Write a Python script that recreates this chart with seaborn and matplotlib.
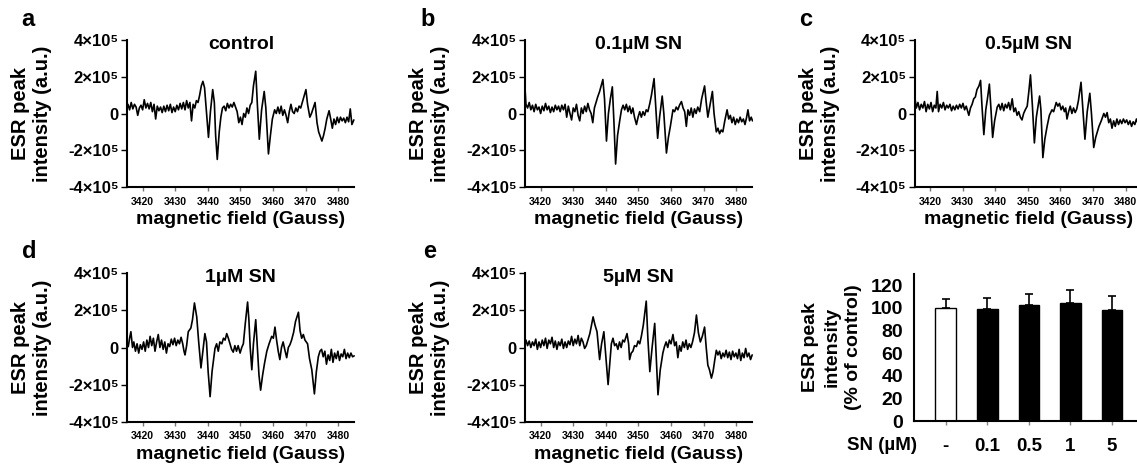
import numpy as np
import pandas as pd
import matplotlib
matplotlib.use("Agg")
import matplotlib.pyplot as plt
import seaborn as sns

# ESR traces, (magnetic field in Gauss, intensity in 1e5 a.u.)
trace_control = [
    (3415.5, 0.5), (3416.0, 0.2), (3416.5, 0.6), (3417.0, 0.25), (3417.5, 0.5),
    (3418.0, 0.35), (3418.5, -0.1), (3419.0, 0.3), (3419.5, 0.45), (3420.0, 0.2),
    (3420.5, 0.75), (3421.0, 0.3), (3421.5, 0.55), (3422.0, 0.25), (3422.5, 0.6),
    (3423.0, 0.1), (3423.5, 0.5), (3424.0, -0.3), (3424.5, 0.4), (3425.0, 0.15),
    (3425.5, 0.35), (3426.0, 0.05), (3426.5, 0.4), (3427.0, 0.1), (3427.5, 0.45),
    (3428.0, 0.15), (3428.5, 0.5), (3429.0, 0.05), (3429.5, 0.35), (3430.0, 0.1),
    (3430.5, 0.45), (3431.0, 0.2), (3431.5, 0.55), (3432.0, 0.25), (3432.5, 0.6),
    (3433.0, 0.2), (3433.5, 0.7), (3434.0, 0.3), (3434.5, 0.6), (3435.0, -0.4),
    (3435.5, 0.5), (3436.0, 0.3), (3436.5, 0.7), (3437.0, 0.6), (3437.5, 1.0),
    (3438.0, 1.5), (3438.5, 1.75), (3439.0, 1.4), (3439.5, 0.3), (3440.2, -1.3),
    (3440.8, 0.1), (3441.5, 1.3), (3442.0, 0.6), (3442.4, -1.2), (3442.9, -2.5),
    (3443.5, -1.0), (3444.0, -0.2), (3444.5, 0.3), (3445.0, 0.4), (3445.5, 0.15),
    (3446.0, 0.55), (3446.5, 0.3), (3447.0, 0.5), (3447.5, 0.35), (3448.0, 0.6),
    (3448.5, 0.35), (3449.0, 0.1), (3449.5, -0.5), (3450.0, -0.2), (3450.5, -0.6),
    (3451.0, 0.0), (3451.5, -0.2), (3452.0, 0.3), (3452.5, 0.0), (3453.0, 0.45),
    (3453.5, 0.6), (3454.0, 1.5), (3454.7, 2.3), (3455.2, 0.5), (3455.8, -1.4),
    (3456.5, 0.2), (3457.3, 1.2), (3457.8, 0.3), (3458.6, -2.2), (3459.2, -1.2),
    (3459.8, -0.3), (3460.5, 0.2), (3461.0, 0.0), (3461.5, 0.35), (3462.0, 0.0),
    (3462.5, 0.4), (3463.0, -0.1), (3463.5, 0.2), (3464.0, -0.1), (3464.5, -0.5),
    (3465.0, 0.1), (3465.5, 0.5), (3466.0, 0.1), (3466.5, 0.0), (3467.0, 0.3),
    (3467.5, 0.1), (3468.0, 0.4), (3468.5, 0.3), (3469.3, 0.8), (3470.1, 1.3),
    (3470.6, 0.5), (3471.3, -0.2), (3471.8, 0.0), (3472.9, 0.6), (3473.5, -0.5),
    (3474.0, -1.0), (3475.0, -1.5), (3475.5, -1.2), (3476.0, -0.8), (3476.5, -0.3),
    (3477.2, 0.15), (3477.7, -0.3), (3478.2, -0.8), (3478.7, -0.3), (3479.2, -0.6),
    (3479.7, -0.2), (3480.2, -0.5), (3480.7, -0.2), (3481.2, -0.4), (3481.7, -0.25),
    (3482.2, -0.5), (3482.7, -0.2), (3483.2, -0.45), (3483.7, 0.25), (3484.2, -0.6),
    (3484.8, -0.35),
]

trace_sn01 = [
    (3415.2, 1.4), (3415.5, 0.5), (3416.0, 0.3), (3416.5, 0.6), (3417.0, 0.2),
    (3417.5, 0.45), (3418.0, 0.1), (3418.5, 0.5), (3419.0, 0.2), (3419.5, 0.35),
    (3420.0, 0.0), (3420.5, 0.4), (3421.0, 0.15), (3421.5, 0.55), (3422.0, 0.2),
    (3422.5, 0.4), (3423.0, 0.05), (3423.5, 0.35), (3424.0, 0.1), (3424.5, 0.45),
    (3425.0, 0.2), (3425.5, 0.4), (3426.0, 0.1), (3426.5, 0.45), (3427.0, 0.2),
    (3427.5, 0.5), (3428.0, -0.2), (3428.5, 0.4), (3429.0, 0.0), (3429.5, -0.35),
    (3430.0, 0.3), (3430.5, 0.1), (3431.0, 0.5), (3431.5, -0.1), (3432.0, -0.4),
    (3432.5, 0.3), (3433.0, 0.0), (3433.5, 0.4), (3434.0, 0.1), (3434.5, 0.55),
    (3435.0, 0.2), (3435.5, 0.0), (3436.0, -0.5), (3436.5, 0.3), (3437.0, 0.6),
    (3437.5, 0.9), (3438.1, 1.2), (3439.1, 1.85), (3439.6, 0.8), (3440.2, -1.5),
    (3440.8, 0.0), (3441.4, 0.8), (3442.0, 1.45), (3442.5, -0.5), (3443.0, -2.75),
    (3443.6, -1.2), (3444.3, -0.35), (3444.8, 0.2), (3445.3, 0.45), (3445.8, 0.2),
    (3446.3, 0.5), (3446.8, 0.1), (3447.3, 0.4), (3447.8, 0.0), (3448.3, 0.3),
    (3448.8, -0.2), (3449.4, -0.6), (3449.9, -0.2), (3450.4, 0.1), (3450.9, -0.2),
    (3451.4, 0.1), (3451.9, -0.1), (3452.4, 0.2), (3452.9, 0.1), (3453.5, 0.55),
    (3454.0, 1.0), (3454.8, 1.9), (3455.3, 0.4), (3455.9, -1.35), (3456.5, -0.2),
    (3457.3, 0.95), (3457.8, 0.0), (3458.6, -2.15), (3459.2, -1.3), (3459.8, -0.7),
    (3460.6, 0.2), (3461.1, 0.1), (3461.6, 0.35), (3462.1, 0.2), (3462.6, 0.45),
    (3463.2, 0.65), (3463.7, 0.3), (3464.2, 0.1), (3464.7, -0.7), (3465.2, 0.2),
    (3465.7, -0.1), (3466.2, 0.3), (3466.7, -0.2), (3467.2, 0.25), (3467.7, 0.0),
    (3468.2, 0.35), (3468.8, 0.1), (3469.4, 0.8), (3470.3, 1.5), (3470.8, 0.6),
    (3471.3, -0.2), (3471.9, 0.4), (3472.7, 1.2), (3473.2, 0.0), (3473.9, -1.0),
    (3474.4, -0.8), (3474.9, -1.1), (3475.4, -0.9), (3475.9, -1.0), (3476.5, -0.4),
    (3477.2, 0.2), (3477.7, -0.3), (3478.2, -0.1), (3478.7, -0.5), (3479.2, -0.2),
    (3479.7, -0.6), (3480.2, -0.3), (3480.7, -0.5), (3481.2, -0.2), (3481.7, -0.45),
    (3482.2, -0.3), (3482.7, -0.6), (3483.2, -0.2), (3483.6, 0.2), (3484.1, -0.4),
    (3484.6, -0.2), (3485.0, -0.4),
]

trace_sn05 = [
    (3415.4, 0.8), (3415.8, 0.3), (3416.3, 0.6), (3416.8, 0.2), (3417.3, 0.5),
    (3417.8, 0.3), (3418.3, 0.65), (3418.8, 0.1), (3419.3, 0.5), (3419.8, 0.25),
    (3420.3, 0.6), (3420.8, 0.1), (3421.3, 0.45), (3421.8, 0.3), (3422.2, 1.2),
    (3422.6, 0.1), (3423.1, 0.5), (3423.6, 0.3), (3424.1, 0.6), (3424.6, 0.2),
    (3425.1, 0.45), (3425.6, 0.3), (3426.1, 0.5), (3426.6, 0.15), (3427.1, 0.4),
    (3427.6, 0.2), (3428.1, 0.45), (3428.6, 0.25), (3429.1, 0.5), (3429.6, 0.3),
    (3430.1, 0.55), (3430.6, 0.2), (3431.1, 0.4), (3431.9, -0.1), (3432.4, 0.3),
    (3432.9, 0.5), (3433.4, 0.8), (3433.9, 0.9), (3434.4, 1.3), (3435.0, 1.5),
    (3435.5, 1.8), (3435.9, 0.5), (3436.5, -1.15), (3437.1, 0.2), (3437.6, 0.8),
    (3438.2, 1.6), (3438.7, 0.2), (3439.2, -1.3), (3439.8, -0.4), (3440.6, 0.35),
    (3441.1, 0.5), (3441.6, 0.2), (3442.1, 0.55), (3442.6, 0.15), (3443.1, 0.5),
    (3443.6, 0.3), (3444.1, 0.6), (3444.6, 0.2), (3445.2, 0.8), (3445.7, 0.1),
    (3446.2, 0.3), (3446.7, -0.1), (3447.2, 0.1), (3447.7, -0.2), (3448.2, -0.35),
    (3448.7, 0.0), (3449.2, 0.2), (3449.8, 0.4), (3450.3, 1.2), (3450.8, 2.1),
    (3451.4, 0.4), (3452.0, -1.6), (3452.6, -0.2), (3453.6, 0.95), (3454.0, 0.2),
    (3454.6, -2.4), (3455.2, -1.4), (3455.9, -0.7), (3456.6, -0.1), (3457.4, 0.2),
    (3457.9, 0.1), (3458.7, 0.6), (3459.2, 0.4), (3459.7, 0.55), (3460.2, 0.2),
    (3460.7, 0.4), (3461.2, 0.1), (3461.6, 0.3), (3462.0, -0.3), (3462.5, 0.1),
    (3463.0, 0.4), (3463.5, 0.0), (3464.0, 0.3), (3464.5, 0.05), (3465.0, 0.25),
    (3465.5, 0.7), (3466.3, 1.7), (3466.8, 0.4), (3467.5, -1.4), (3468.2, 0.1),
    (3469.0, 1.1), (3469.5, 0.0), (3470.2, -1.85), (3470.8, -1.3), (3471.8, -0.7),
    (3472.5, -0.4), (3473.3, 0.0), (3473.8, -0.2), (3474.3, 0.05), (3474.8, -0.5),
    (3475.3, -0.3), (3475.8, -0.8), (3476.3, -0.4), (3476.8, -0.7), (3477.3, -0.3),
    (3477.8, -0.6), (3478.3, -0.35), (3478.8, -0.55), (3479.3, -0.3), (3479.8, -0.5),
    (3480.3, -0.35), (3480.8, -0.6), (3481.3, -0.4), (3481.8, -0.7), (3482.3, -0.45),
    (3482.8, -0.6), (3483.3, -0.3), (3483.8, -0.55), (3484.3, -0.4),
]

trace_sn1 = [
    (3415.6, 0.05), (3416.0, 0.5), (3416.4, 0.85), (3416.9, 0.0), (3417.3, 0.3),
    (3417.8, -0.2), (3418.3, 0.2), (3418.8, -0.3), (3419.3, 0.15), (3419.8, -0.1),
    (3420.3, 0.3), (3420.8, -0.2), (3421.3, 0.4), (3421.8, 0.0), (3422.3, 0.6),
    (3422.8, 0.1), (3423.3, 0.5), (3423.8, -0.2), (3424.3, 0.3), (3424.8, 0.7),
    (3425.3, 0.0), (3425.8, 0.4), (3426.3, -0.1), (3426.8, 0.3), (3427.3, -0.3),
    (3427.8, 0.2), (3428.3, 0.05), (3428.8, 0.45), (3429.3, 0.15), (3429.8, 0.5),
    (3430.3, 0.1), (3430.8, 0.4), (3431.3, 0.2), (3431.8, 0.55), (3432.3, 0.2),
    (3432.7, -0.2), (3433.0, -0.4), (3433.5, 0.1), (3434.0, 0.85), (3434.8, 1.05),
    (3435.3, 1.5), (3435.9, 2.4), (3436.6, 1.65), (3437.2, 0.3), (3437.9, -1.1),
    (3438.5, -0.2), (3439.1, 0.75), (3439.6, 0.3), (3440.1, -1.3), (3440.7, -2.65),
    (3441.3, -1.3), (3442.2, -0.05), (3442.7, 0.2), (3443.2, -0.2), (3443.7, 0.3),
    (3444.3, 0.2), (3444.8, 0.5), (3445.3, 0.4), (3445.8, 0.75), (3446.3, 0.5),
    (3446.8, 0.2), (3447.3, -0.1), (3447.8, -0.25), (3448.3, 0.1), (3448.8, -0.2),
    (3449.3, 0.1), (3449.9, -0.3), (3450.4, 0.0), (3450.9, 0.2), (3451.5, 1.3),
    (3452.2, 2.45), (3452.6, 1.5), (3453.0, 0.0), (3453.5, -1.2), (3454.0, 0.2),
    (3454.7, 1.5), (3455.2, 0.0), (3455.7, -1.5), (3456.2, -2.3), (3456.8, -1.5),
    (3457.4, -0.85), (3458.1, -0.2), (3458.8, 0.2), (3459.6, 0.6), (3460.1, 0.5),
    (3460.6, 1.1), (3461.1, 0.4), (3461.6, -0.2), (3462.1, -0.65), (3462.6, 0.0),
    (3463.1, 0.3), (3463.6, -0.1), (3464.2, -0.55), (3464.7, 0.0), (3465.2, 0.15),
    (3465.7, 0.4), (3466.3, 0.8), (3466.9, 1.4), (3467.8, 1.9), (3468.3, 0.9),
    (3468.8, 0.5), (3469.3, 0.7), (3469.8, 0.4), (3470.6, 0.2), (3471.2, -0.6),
    (3471.9, -1.2), (3472.7, -2.5), (3473.3, -1.3), (3473.9, -0.5), (3474.4, -0.2),
    (3474.9, -0.1), (3475.4, -0.5), (3475.9, -0.2), (3476.4, -0.9), (3476.9, -0.4),
    (3477.4, -0.7), (3477.9, -0.1), (3478.4, -0.8), (3478.9, -0.3), (3479.4, -0.6),
    (3479.9, -0.2), (3480.4, -0.7), (3480.9, -0.35), (3481.4, -0.5), (3481.9, -0.1),
    (3482.4, -0.6), (3482.9, -0.3), (3483.4, -0.55), (3483.9, -0.3), (3484.4, -0.5),
    (3484.9, -0.45),
]

trace_sn5 = [
    (3415.5, 0.4), (3416.0, 0.1), (3416.5, 0.35), (3417.0, 0.0), (3417.5, 0.3),
    (3418.0, 0.1), (3418.5, 0.45), (3419.0, -0.1), (3419.5, 0.3), (3420.0, 0.0),
    (3420.5, 0.4), (3421.0, 0.1), (3421.5, 0.5), (3422.0, -0.05), (3422.5, 0.4),
    (3423.0, 0.2), (3423.5, 0.55), (3424.0, 0.0), (3424.5, 0.35), (3425.0, -0.1),
    (3425.5, 0.3), (3426.0, 0.1), (3426.5, 0.45), (3427.0, -0.05), (3427.5, 0.3),
    (3428.0, 0.0), (3428.5, 0.35), (3429.0, 0.15), (3429.5, 0.6), (3430.0, 0.1),
    (3430.5, 0.45), (3431.0, 0.2), (3431.5, 0.65), (3432.0, 0.1), (3432.5, 0.5),
    (3433.0, 0.3), (3433.5, -0.05), (3434.0, 0.1), (3434.5, 0.4), (3435.1, 0.75),
    (3436.1, 1.65), (3436.7, 1.2), (3437.3, 0.85), (3438.1, -0.65), (3438.7, 0.2),
    (3439.4, 0.85), (3440.0, -0.5), (3440.7, -2.0), (3441.2, -0.9), (3441.7, 0.2),
    (3442.2, 0.5), (3442.7, 0.1), (3443.2, 0.2), (3443.7, -0.1), (3444.2, 0.3),
    (3444.7, 0.0), (3445.2, 0.4), (3445.7, 0.3), (3446.5, 0.75), (3447.0, 0.2),
    (3447.3, -0.65), (3447.8, -0.3), (3448.3, -0.2), (3448.8, 0.1), (3449.4, 0.05),
    (3449.9, 0.35), (3450.4, 0.2), (3450.9, 0.6), (3451.5, 1.2), (3452.4, 2.5),
    (3452.9, 0.5), (3453.5, -1.3), (3454.2, 0.0), (3455.0, 1.3), (3455.5, -0.6),
    (3456.0, -2.55), (3456.7, -1.2), (3457.5, -0.3), (3458.0, 0.05), (3458.5, 0.3),
    (3459.0, 0.0), (3459.5, 0.4), (3460.0, 0.2), (3460.6, 0.7), (3461.1, 0.1),
    (3461.6, 0.3), (3462.1, -0.55), (3462.6, 0.1), (3463.1, -0.2), (3463.6, 0.3),
    (3464.1, 0.0), (3464.6, 0.4), (3465.1, -0.1), (3465.6, 0.2), (3466.1, 0.0),
    (3466.6, 0.3), (3467.2, 0.8), (3467.8, 1.75), (3468.4, 0.8), (3469.0, 0.3),
    (3469.6, 0.6), (3470.3, 1.1), (3470.8, 0.0), (3471.3, -0.95), (3471.8, -1.2),
    (3472.4, -1.65), (3472.9, -1.3), (3473.4, -0.7), (3473.9, -0.15), (3474.4, -0.4),
    (3474.9, -0.2), (3475.4, -0.6), (3475.9, -0.3), (3476.4, -0.5), (3476.9, -0.15),
    (3477.4, -0.55), (3477.9, -0.25), (3478.4, -0.65), (3478.9, -0.2), (3479.4, -0.5),
    (3479.9, -0.3), (3480.4, -0.6), (3480.9, -0.1), (3481.4, -0.7), (3481.9, -0.3),
    (3482.4, -0.55), (3482.9, -0.05), (3483.4, -0.5), (3483.9, -0.3), (3484.4, -0.65),
    (3484.9, -0.4),
]

titles = ["control", "0.1\u00b5M SN", "0.5\u00b5M SN", "1\u00b5M SN", "5\u00b5M SN"]
letters = ["a", "b", "c", "d", "e"]
field_ticks = [3420, 3430, 3440, 3450, 3460, 3470, 3480]
esr_ticks = [-4e5, -2e5, 0, 2e5, 4e5]
esr_ticklabels = ["-4\u00d710\u2075", "-2\u00d710\u2075", "0", "2\u00d710\u2075", "4\u00d710\u2075"]

# summary bar chart
sn_labels = ["-", "0.1", "0.5", "1", "5"]
esr_pct = [100, 98.8, 102.6, 104.1, 97.9]
esr_err = [7.6, 9.4, 9.8, 11.5, 12.0]
bar_fill = ["white", "black", "black", "black", "black"]

sns.set_style("ticks")
plt.rcParams['font.family'] = ['Liberation Sans', 'DejaVu Sans']
plt.rcParams['font.weight'] = 'bold'
plt.rcParams['axes.labelweight'] = 'bold'
for key in ['text.color', 'axes.labelcolor', 'xtick.color', 'ytick.color', 'axes.edgecolor']:
    plt.rcParams[key] = 'black'

W, H = 1137, 467
fig = plt.figure(figsize=(W / 100, H / 100), dpi=100)


def add_px_axes(left, top, right, bottom):
    return fig.add_axes([left / W, 1 - bottom / H, (right - left) / W, (bottom - top) / H])


# left, top, right, bottom in pixels; letter x, y in pixels
boxes = [
    (127.3, 40, 354.5, 187), (525.3, 40, 752.5, 187), (914.7, 40, 1142, 187),
    (127.3, 273.3, 354.5, 421.7), (525.3, 273.3, 752.5, 421.7),
]
letter_pos = [(28, 20), (428, 20), (806, 20), (29, 251), (430, 252)]
traces = [trace_control, trace_sn01, trace_sn05, trace_sn1, trace_sn5]

for trace, title, letter, box, lpos in zip(traces, titles, letters, boxes, letter_pos):
    ax = add_px_axes(*box)
    df = pd.DataFrame(trace, columns=["field", "esr"])
    df["esr"] = df["esr"] * 1e5
    sns.lineplot(data=df, x="field", y="esr", ax=ax, color="black", lw=1.2,
                 estimator=None, sort=False)
    ax.set_xlim(3415.3, 3485)
    ax.set_ylim(-4e5, 4e5)
    ax.set_xticks(field_ticks)
    ax.set_yticks(esr_ticks)
    ax.set_yticklabels(esr_ticklabels)
    for s in ["top", "right"]:
        ax.spines[s].set_visible(False)
    for s in ["left", "bottom"]:
        ax.spines[s].set_linewidth(1.5)
    ax.tick_params(axis="x", labelsize=7.5, length=3, width=1, pad=4, color="#777777")
    ax.tick_params(axis="y", labelsize=12, length=4, width=1, pad=2)
    ax.set_xlabel("magnetic field (Gauss)", fontsize=14, labelpad=3)
    ax.set_ylabel("ESR peak\nintensity (a.u.)", fontsize=14.5)
    ax.yaxis.set_label_coords(-0.33, 0.5)
    ax.text(0.5, 1.03, title, transform=ax.transAxes, ha="center", va="top",
            fontsize=14, fontweight="bold")
    fig.text(lpos[0] / W, 1 - lpos[1] / H, letter, ha="center", va="center",
             fontsize=17, fontweight="bold")

# bar panel
axb = add_px_axes(914.3, 273.7, 1143.5, 421)
bdf = pd.DataFrame({"sn": sn_labels, "pct": esr_pct})
sns.barplot(data=bdf, x="sn", y="pct", hue="sn", palette=dict(zip(sn_labels, bar_fill)),
            legend=False, width=0.5, edgecolor="black", linewidth=1.0, ax=axb)
axb.errorbar(np.arange(len(sn_labels)), esr_pct, yerr=[np.zeros(len(esr_err)), esr_err],
             fmt="none", ecolor="black", elinewidth=1.2, capsize=3, capthick=1.2, zorder=3)
axb.set_xlim(-0.76, 4.76)
axb.set_ylim(0, 130)
axb.set_yticks([0, 20, 40, 60, 80, 100, 120])
for s in ["top", "right"]:
    axb.spines[s].set_visible(False)
for s in ["left", "bottom"]:
    axb.spines[s].set_linewidth(1.5)
axb.tick_params(axis="y", labelsize=14, length=0, pad=8)
axb.tick_params(axis="x", labelsize=13.5, length=3, width=1, color="#888888", pad=9)
axb.set_xlabel("")
axb.set_ylabel("ESR peak\nintensity\n(% of control)", fontsize=14, linespacing=1.35)
axb.yaxis.set_label_coords(-0.228, 0.5)
fig.text(917 / W, 1 - 445.5 / H, "SN (\u00b5M)", ha="right", va="center",
         fontsize=13.5, fontweight="bold")

fig.savefig("out.png", dpi=100)
